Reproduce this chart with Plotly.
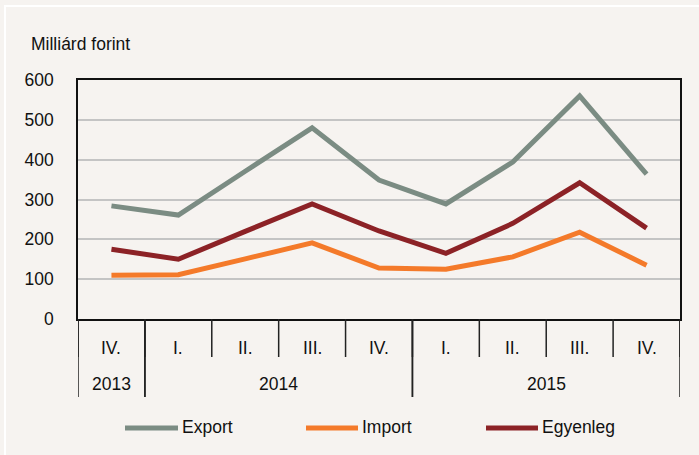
import plotly.graph_objects as go

BG = "#f6f3f0"
FONT = "Liberation Sans, Arial, sans-serif"
FS = 17.5

quarters = ["IV.", "I.", "II.", "III.", "IV.", "I.", "II.", "III.", "IV."]
years = ["2013", "2014", "2015"]
year_spans = [(0, 0), (1, 4), (5, 8)]  # first/last quarter index of each year

export = [284, 261, 371, 480, 349, 289, 394, 560, 364]
imports = [110, 111, 151, 191, 128, 125, 156, 218, 135]
balance = [175, 150, 220, 289, 221, 165, 240, 342, 228]

series = [
    ("Export", export, "#7b8c83"),
    ("Import", imports, "#f47a2a"),
    ("Egyenleg", balance, "#8c2226"),
]

# figure and plot-area geometry in pixels
FW, FH = 699, 455
L, R, T, B = 78, 19, 80, 136
W, H = FW - L - R, FH - T - B


def px(x):
    return (x - L) / W


def py(y):
    return 1 - (y - T) / H


x_idx = list(range(len(quarters)))

fig = go.Figure()
for name, vals, color in series:
    fig.add_trace(go.Scatter(
        x=x_idx, y=vals, name=name, mode="lines",
        line=dict(color=color, width=5), showlegend=False,
    ))

shapes = []
annotations = []


def label(x, y, text, xref="paper", xanchor="center"):
    annotations.append(dict(x=x, y=y, xref=xref, yref="paper", text=text,
                            showarrow=False, xanchor=xanchor, yanchor="middle",
                            font=dict(size=FS)))


# quarter / year labels with dividers below the plot
for i, q in enumerate(quarters):
    label(i, py(348), q, xref="x")
for i in range(len(quarters) + 1):
    shapes.append(dict(type="line", xref="x", yref="paper", x0=i - 0.5, x1=i - 0.5,
                       y0=0, y1=py(357), line=dict(color="#222", width=1.5)))
for yr, (a, b) in zip(years, year_spans):
    label((a + b) / 2, py(384), yr, xref="x")
    for edge in (a - 0.5, b + 0.5):
        shapes.append(dict(type="line", xref="x", yref="paper", x0=edge, x1=edge,
                           y0=0, y1=py(397), line=dict(color="#222", width=1.5)))

# unit label
label(px(29), py(44), "Milliárd forint", xanchor="left")

# legend drawn by hand so the line samples are long like the original
legend_items = [(125, 178, 180), (306, 358, 360), (486, 538, 540)]
for (name, _, color), (lx0, lx1, tx) in zip(series, legend_items):
    shapes.append(dict(type="line", xref="paper", yref="paper",
                       x0=px(lx0), x1=px(lx1), y0=py(428), y1=py(428),
                       line=dict(color=color, width=5)))
    label(px(tx), py(427), name, xanchor="left")

# thin white frame inset near the image edge
shapes.append(dict(type="rect", xref="paper", yref="paper", layer="below",
                   x0=px(5), x1=px(FW + 10), y0=py(6), y1=py(FH + 10),
                   line=dict(color="white", width=2), fillcolor="rgba(0,0,0,0)"))

fig.update_layout(
    width=FW, height=FH,
    margin=dict(l=L, r=R, t=T, b=B),
    paper_bgcolor=BG, plot_bgcolor=BG,
    font=dict(family=FONT, size=FS, color="#111"),
    shapes=shapes, annotations=annotations,
    showlegend=False,
)
fig.update_xaxes(range=[-0.5, 8.5], showticklabels=False, showgrid=False,
                 zeroline=False, showline=True, linecolor="#111", linewidth=1.5,
                 mirror=True, ticks="")
fig.update_yaxes(range=[0, 600], dtick=100, showgrid=True, gridcolor="#c4c4c4",
                 gridwidth=1.5, zeroline=False, showline=True, linecolor="#111",
                 linewidth=1.5, mirror=True, ticks="", ticklabelstandoff=19)

fig.write_html("out.html", config={"displayModeBar": False},
               post_script="document.body.style.margin='0px';")
